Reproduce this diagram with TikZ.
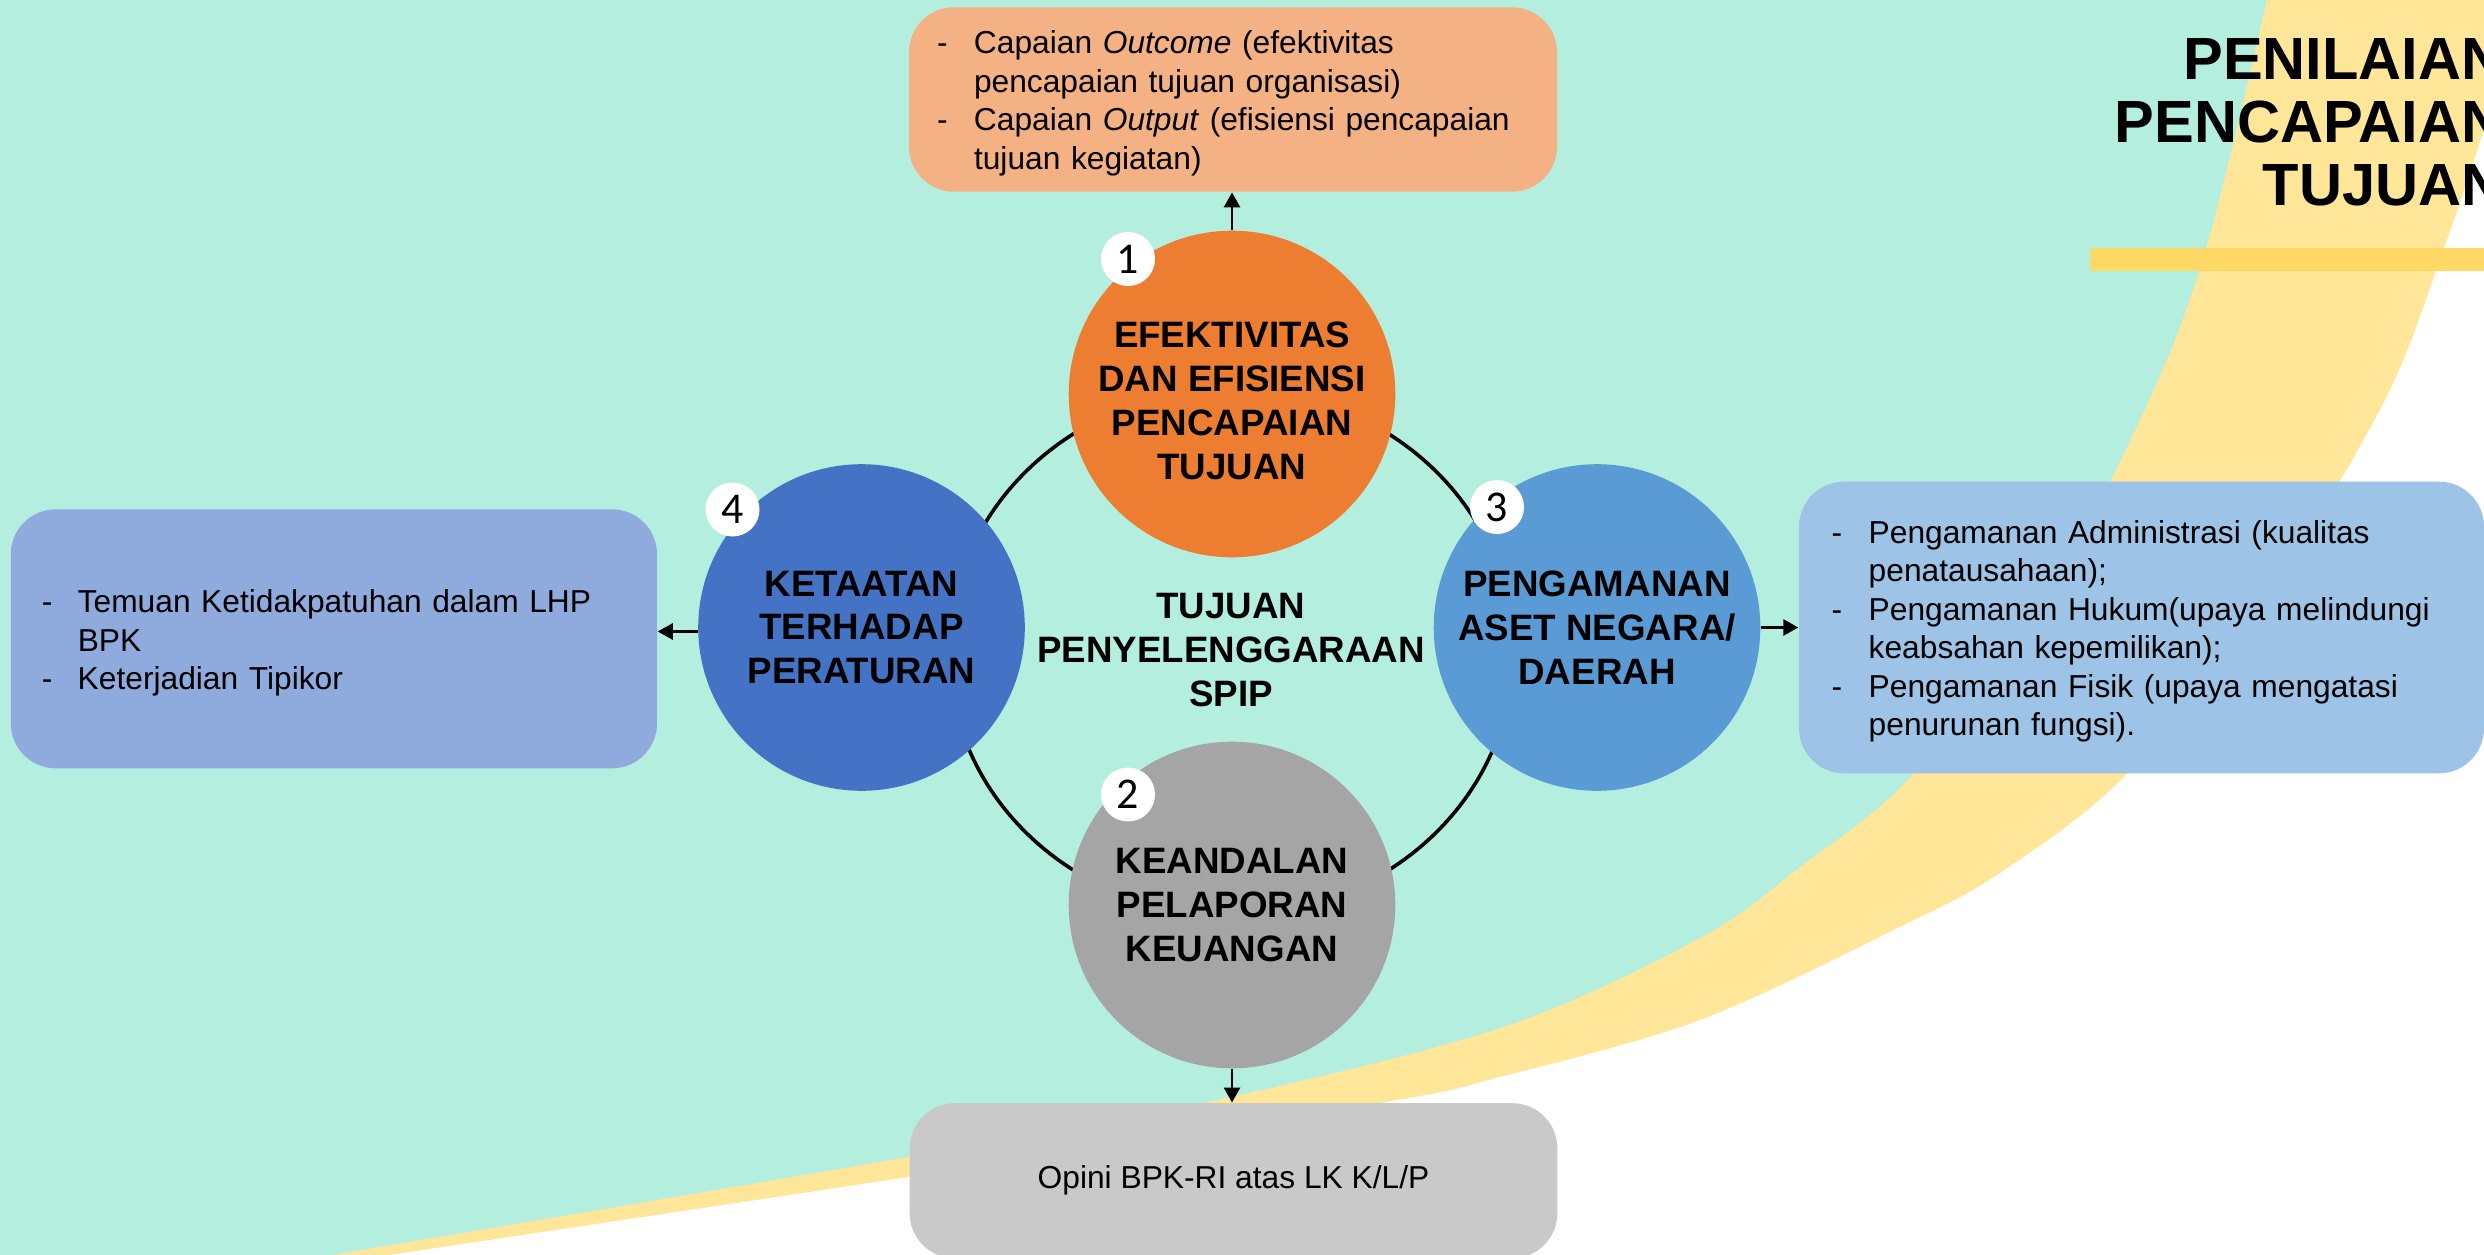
\documentclass[tikz,border=0pt]{standalone}
\usepackage{fontspec}
\setmainfont{Liberation Sans}
\newfontfamily\badgefont{Carlito}
\usetikzlibrary{arrows.meta}

\definecolor{mint}{HTML}{B4EEDF}
\definecolor{band}{HTML}{FFE699}
\definecolor{barcol}{HTML}{FFD966}
\definecolor{topcol}{HTML}{F4B183}
\definecolor{leftcol}{HTML}{8FAADC}
\definecolor{rightcol}{HTML}{9DC3E6}
\definecolor{botcol}{HTML}{C9C9C9}
\definecolor{orangec}{HTML}{ED7D31}
\definecolor{grayc}{HTML}{A5A5A5}
\definecolor{bluec}{HTML}{5B9BD5}
\definecolor{darkbluec}{HTML}{4472C4}

% first row of a list gets a little extra room on top
\newcommand\firstrow{\rule{0pt}{\dimexpr0.7\baselineskip+0.9mm\relax}}

\begin{document}
\begin{tikzpicture}[x=0.1mm,y=-0.1mm,
  boxtext/.style={font=\fontsize{9.03}{10.95}\selectfont},
  infobox/.style={rectangle, rounded corners=4.5mm, draw=none, inner ysep=0pt, align=left, boxtext},
  goal/.style={circle, minimum size=32.66mm, inner sep=0pt, align=center,
    font=\bfseries\fontsize{10.45}{12.5}\selectfont},
  badge/.style={circle, fill=white, minimum size=5.4mm, inner sep=0pt,
    font=\badgefont\fontsize{12.5}{12.5}\selectfont},
  arr/.style={line width=0.26mm, -{Triangle[length=1.5mm,width=1.6mm]}},
  ttl/.style={anchor=base east, inner sep=0pt, font=\bfseries\fontsize{16.95}{18}\selectfont}
]
\clip (0,0) rectangle (2484,1255);

% background: yellow band between the mint field and the white corner
\fill[band] (-10,-10) rectangle (2500,1270);
\fill[mint] (-10,-60) -- plot[smooth,tension=0.55] coordinates {(2279,-60) (2267,0) (2206,248) (2149,400) (2050,590) (1913,774) (1800,867) (1700,938) (1500,1028) (1203,1103) (908,1157) (332,1255) (230,1272)} -- (-10,1300) -- cycle;
\fill[white] (2600,-60) -- plot[smooth,tension=0.55] coordinates {(2520,20) (2484,130) (2444,248) (2385,400) (2265,600) (2127,774) (2000,873) (1900,927) (1700,1020) (1500,1077) (1380,1103) (908,1177) (390,1255) (290,1272)} -- (2600,1300) -- cycle;

% title and underline bar
\fill[barcol] (2090,248) rectangle (2500,271.5);
\node[ttl] (t1) at (2505,80) {PENILAIAN};
\node[ttl] (t2) at (2505,143) {PENCAPAIAN};
\node[ttl] (t3) at (2505,206) {TUJUAN};

% ring behind the four goals
\coordinate (ringc) at (1231,652);
\draw[line width=0.36mm] (ringc) ellipse [x radius=28.2mm, y radius=26.3mm];

% the four goals
\node[goal, fill=orangec] (c1) at (1232,394) {\rule{0pt}{3.93mm}EFEKTIVITAS\\DAN EFISIENSI\\PENCAPAIAN\\TUJUAN};
\node[goal, fill=grayc] (c2) at (1232,905) {KEANDALAN\\PELAPORAN\\KEUANGAN};
\node[goal, fill=bluec] (c3) at (1597,627.5) {PENGAMANAN\\ASET NEGARA/\\DAERAH};
\node[goal, fill=darkbluec] (c4) at (861.5,627.5) {KETAATAN\\TERHADAP\\PERATURAN};

\node[align=center, font=\bfseries\fontsize{10.45}{12.5}\selectfont] (mid) at (1231,650) {TUJUAN\\PENYELENGGARAAN\\SPIP};

% number badges
\node[badge] (b1) at (1128,259) {1};
\node[badge] (b2) at (1128,794.5) {2};
\node[badge] (b3) at (1497,507) {3};
\node[badge] (b4) at (732.5,509.5) {4};

% result boxes
\node[infobox, fill=topcol, minimum width=64.8mm, minimum height=18.44mm,
      text width=59.2mm, inner xsep=2.8mm] (outbox) at (1233,99.5) {%
\begin{tabular}{@{}p{3.7mm}@{}l@{}}
\firstrow-&Capaian \textit{Outcome} (efektivitas\\
&pencapaian tujuan organisasi)\\
-&Capaian \textit{Output} (efisiensi pencapaian\\
&tujuan kegiatan)
\end{tabular}};

\node[infobox, fill=rightcol, minimum width=68.5mm, minimum height=29.16mm,
      text width=61.96mm, inner xsep=3.27mm] (rbox) at (2141.5,627.5) {%
\begin{tabular}{@{}p{3.7mm}@{}l@{}}
\firstrow-&Pengamanan Administrasi (kualitas\\
&penatausahaan);\\
-&Pengamanan Hukum(upaya melindungi\\
&keabsahan kepemilikan);\\
-&Pengamanan Fisik (upaya mengatasi\\
&penurunan fungsi).
\end{tabular}};

\node[infobox, fill=leftcol, minimum width=64.63mm, minimum height=25.9mm,
      text width=58.43mm, inner xsep=3.1mm] (lbox) at (333.9,638.8) {%
\begin{tabular}{@{}p{3.6mm}@{}l@{}}
\firstrow-&Temuan Ketidakpatuhan dalam LHP\\
&BPK\\
-&Keterjadian Tipikor
\end{tabular}};

\node[infobox, fill=botcol, minimum width=64.77mm, minimum height=15.5mm,
      inner xsep=0pt, align=center] (opbox) at (1233.5,1180.7) {Opini BPK-RI atas LK K/L/P};

% connectors from each goal to its measure
\draw[arr] (c1.north) -- (c1.north |- outbox.south);
\draw[arr] (c2.south) -- (c2.south |- opbox.north);
\draw[arr] (c3.east) -- (c3.east -| rbox.west);
\draw[arr] ([yshift=-0.4mm]c4.west) -- ([yshift=-0.4mm]c4.west -| lbox.east);
\end{tikzpicture}
\end{document}
